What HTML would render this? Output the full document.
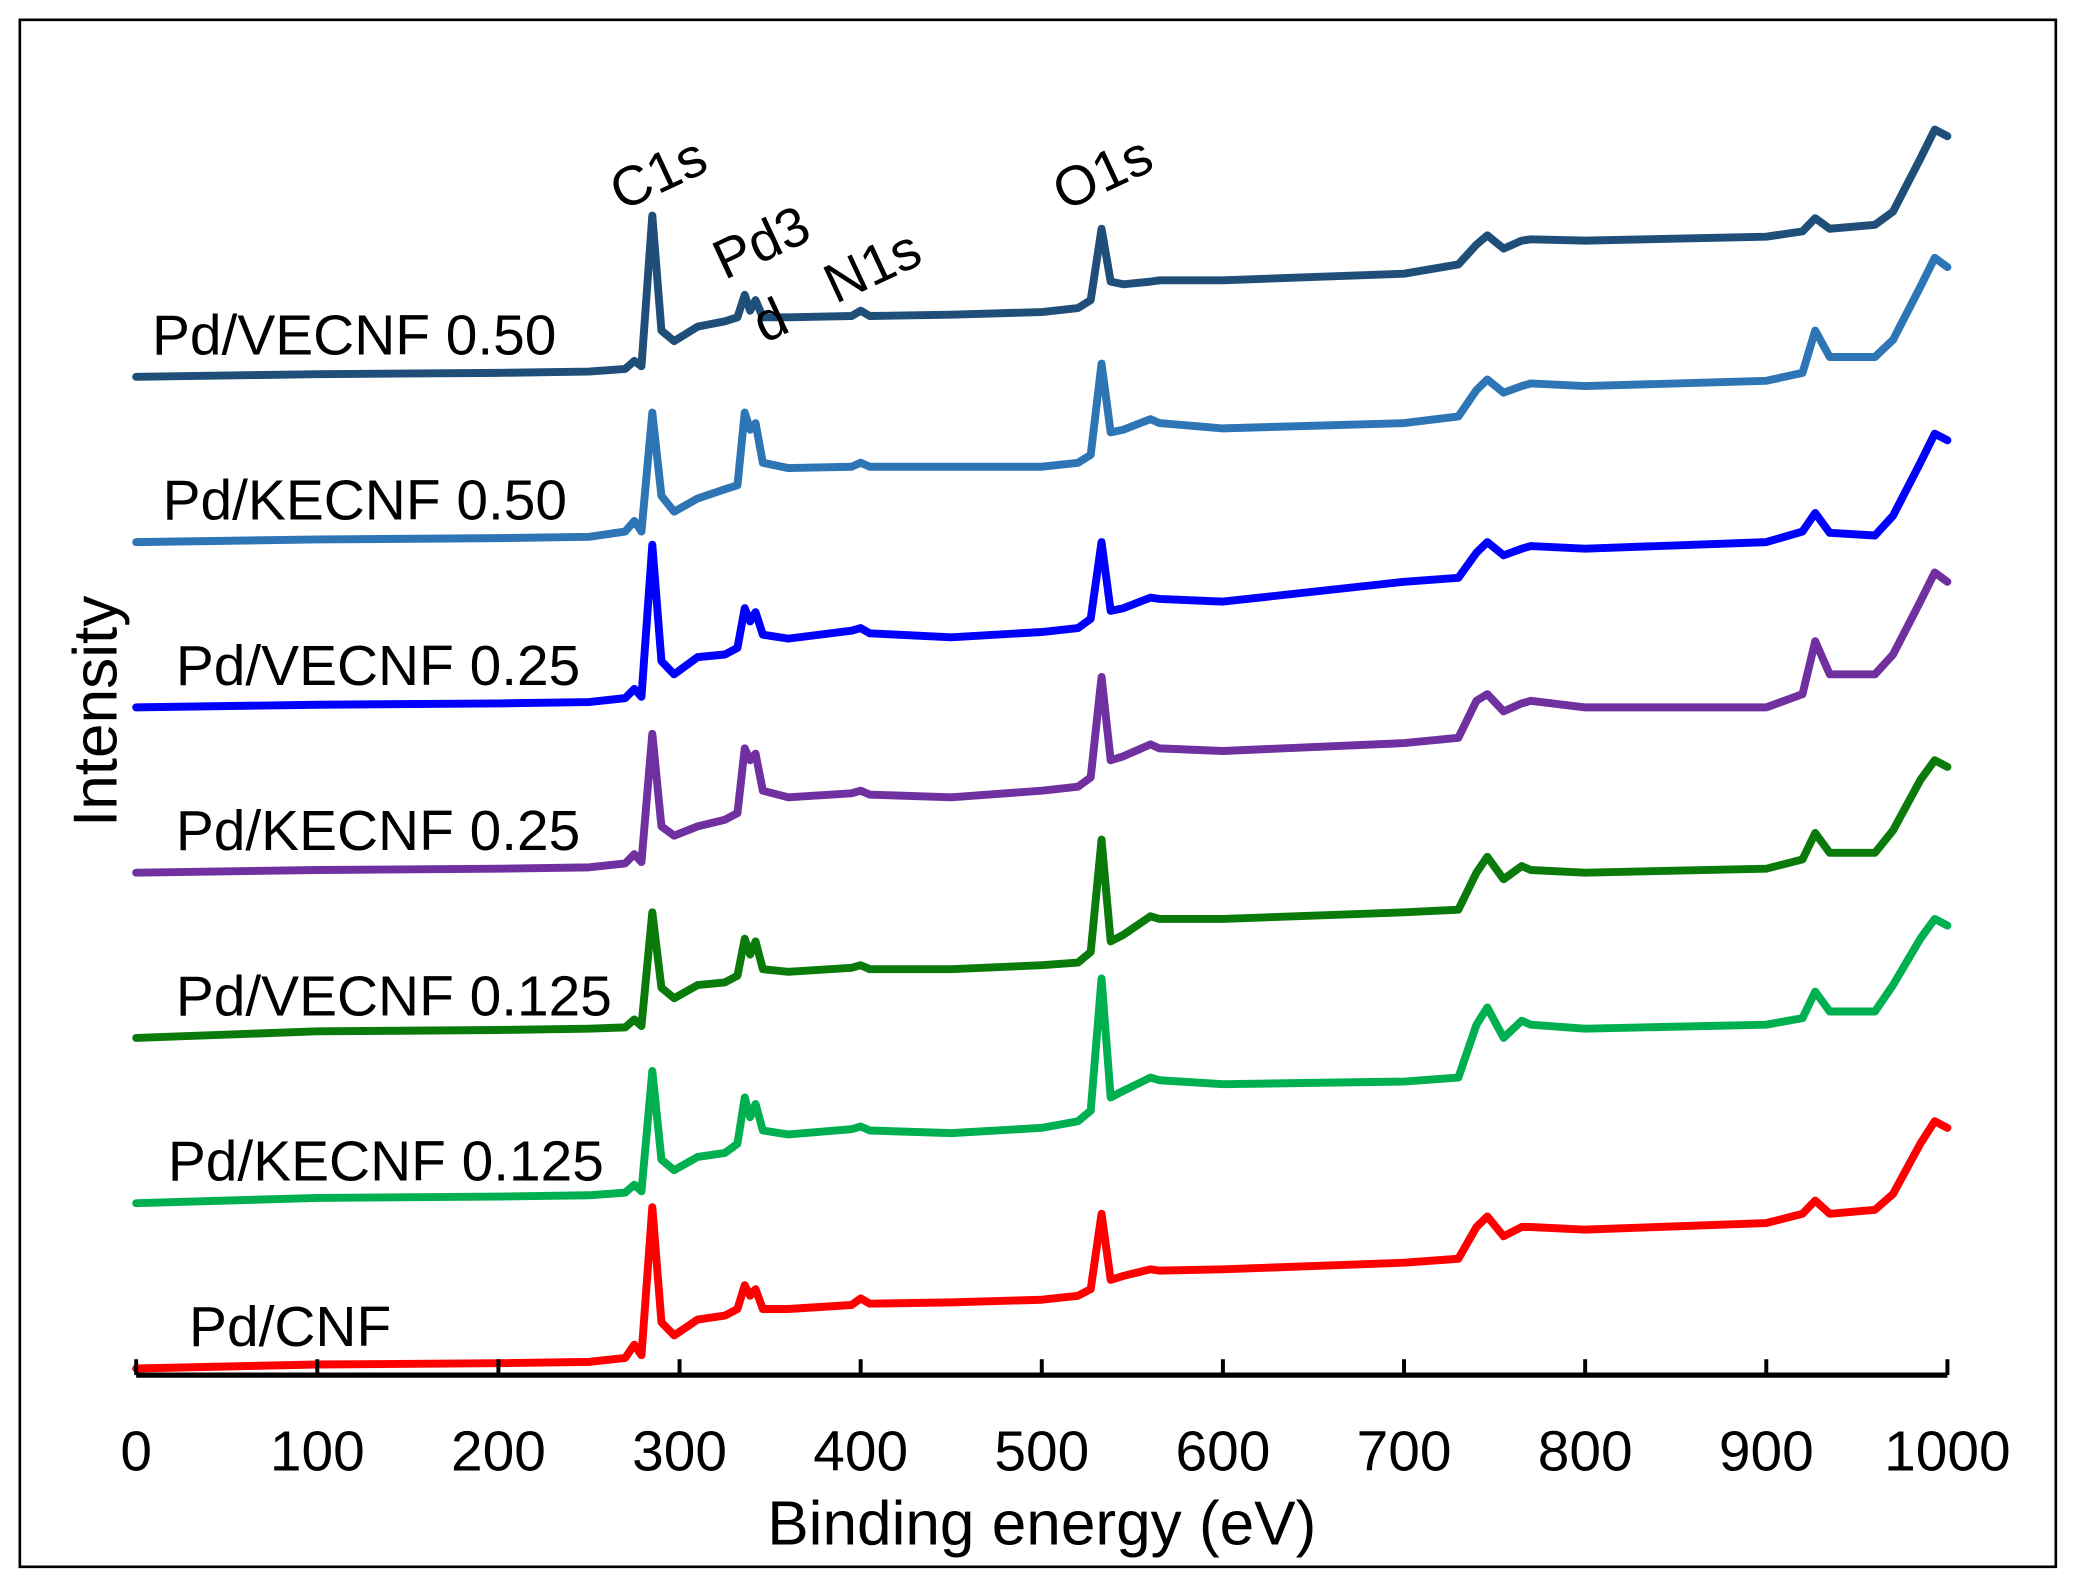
<!DOCTYPE html>
<html><head><meta charset="utf-8"><style>
html,body{margin:0;padding:0;background:#fff}
svg{display:block}
text{font-family:"Liberation Sans",Arial,sans-serif;fill:#000}
</style></head><body>
<svg id="chart" width="2073" height="1584" viewBox="0 0 1568 1198" preserveAspectRatio="none" xmlns="http://www.w3.org/2000/svg">
<rect x="15" y="15" width="1540" height="1170" fill="#fff" stroke="#000" stroke-width="2"/>
<g id="series"></g>
<g id="axis"></g>
<text x="788" y="1168" font-size="47" text-anchor="middle">Binding energy (eV)</text>
<text x="0" y="0" font-size="47" text-anchor="middle" transform="translate(88,538) rotate(-90)">Intensity</text>
<text font-size="42" transform="translate(470,160) rotate(-25)">C1s</text>
<text font-size="42" transform="translate(548,212) rotate(-25)">Pd3</text>
<text font-size="42" transform="translate(578,260) rotate(-25)">d</text>
<text font-size="42" transform="translate(632,230) rotate(-25)">N1s</text>
<text font-size="42" transform="translate(805,160) rotate(-25)">O1s</text>
</svg>
<script>
const energies=[0,100,200,250,270,275,279,285,290,297,310,325,332,336,339,342,346,360,395,400,405,450,500,520,527,533,538,545,560,565,600,700,730,740,746,755,765,770,800,900,920,927,935,960,970,985,993,1000];
const seriesNames=["Pd/VECNF 0.50","Pd/KECNF 0.50","Pd/VECNF 0.25","Pd/KECNF 0.25","Pd/VECNF 0.125","Pd/KECNF 0.125","Pd/CNF"];
const seriesOffsets=[0,1,2,3,4,5,6];
const sVE050=[0,2,3,4,6,12,8,122,35,27,38,42,45,62,50,58,45,45,46,50,46,47,49,52,58,112,72,70,72,73,73,78,85,100,107,97,103,104,103,106,110,120,112,115,125,165,187,182];
const sKE050=[0,2,3,4,8,16,8,98,35,23,33,40,43,98,85,90,60,56,57,60,57,57,57,60,66,135,83,85,93,90,86,90,95,115,123,113,118,120,118,122,128,160,140,140,153,193,215,208];
const sVE025=[0,2,3,4,7,14,8,123,35,25,38,40,45,75,65,72,55,52,58,60,56,53,57,60,67,125,73,75,83,82,80,95,98,117,125,115,120,122,120,125,133,147,132,130,145,185,207,202];
const sKE025=[0,2,3,4,7,14,8,105,35,28,35,40,45,94,85,90,62,57,60,62,59,57,62,65,72,148,85,88,97,94,92,98,102,130,135,122,128,130,125,125,135,175,150,150,165,205,227,220];
const sVE0125=[0,5,6,7,8,14,9,95,38,30,40,42,47,75,63,73,52,50,53,55,52,52,55,57,65,150,73,78,92,90,90,95,97,125,137,120,130,127,125,128,135,155,140,140,157,195,210,205];
const sKE0125=[0,4,5,6,8,14,9,100,33,25,35,38,45,80,65,75,55,52,56,58,55,53,57,62,70,170,80,85,95,93,90,92,95,135,148,125,138,135,132,135,140,160,145,145,165,200,215,210];
const sCNF=[0,3,4,5,8,18,10,122,35,25,37,40,45,63,55,60,45,45,48,53,49,50,52,55,60,117,67,70,75,74,75,80,83,107,115,100,107,107,105,110,117,127,117,120,132,170,187,182];
const seriesValues=[sVE050,sKE050,sVE025,sKE025,sVE0125,sKE0125,sCNF];
const seriesColors=["#1f4e79","#2e75b6","#0000ff","#7030a0","#0a7a0a","#00b050","#ff0000"];
const xTicks=[0,100,200,300,400,500,600,700,800,900,1000];
const labelX=[115,123,133,133,133,127,143];

const NS="http://www.w3.org/2000/svg";
const X0=103,X1=1473,AXY=1040,BASE0=285,GAP=125;
const xs=e=>X0+(e/1000)*(X1-X0);
const ys=(i,v)=>BASE0+seriesOffsets[i]*GAP-v;
const gS=document.getElementById('series');
seriesValues.forEach((vals,i)=>{
  const p=document.createElementNS(NS,'path');
  let d=vals.map((v,k)=>(k?'L':'M')+xs(energies[k]).toFixed(1)+' '+ys(i,v).toFixed(1)).join(' ');
  p.setAttribute('d',d);
  p.setAttribute('fill','none');
  p.setAttribute('stroke',seriesColors[i]);
  p.setAttribute('stroke-width','6');
  p.setAttribute('stroke-linejoin','round');
  p.setAttribute('stroke-linecap','round');
  
  
  gS.appendChild(p);
  const t=document.createElementNS(NS,'text');
  t.setAttribute('x',labelX[i]);
  t.setAttribute('y',ys(i,0)-17);
  t.setAttribute('font-size','43');
  t.textContent=seriesNames[i];
  
  
  gS.appendChild(t);
});
const gA=document.getElementById('axis');
const ax=document.createElementNS(NS,'line');
ax.setAttribute('x1',X0);ax.setAttribute('x2',X1);ax.setAttribute('y1',AXY);ax.setAttribute('y2',AXY);
ax.setAttribute('stroke','#000');ax.setAttribute('stroke-width','4');


gA.appendChild(ax);
xTicks.forEach(v=>{
  const l=document.createElementNS(NS,'line');
  l.setAttribute('x1',xs(v));l.setAttribute('x2',xs(v));l.setAttribute('y1',AXY);l.setAttribute('y2',AXY-12);
  l.setAttribute('stroke','#000');l.setAttribute('stroke-width','3');
  
  
  gA.appendChild(l);
  const t=document.createElementNS(NS,'text');
  t.setAttribute('x',xs(v));t.setAttribute('y',1112);
  t.setAttribute('font-size','43');t.setAttribute('text-anchor','middle');
  t.textContent=v;
  
  
  gA.appendChild(t);
});
</script>
</body></html>
